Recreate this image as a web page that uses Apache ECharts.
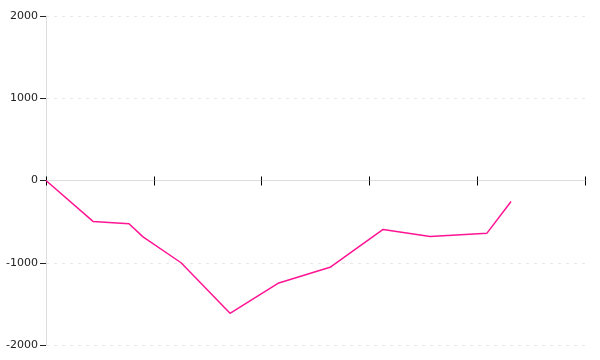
<!DOCTYPE html>
<html>
<head>
<meta charset="utf-8">
<script src="https://cdn.jsdelivr.net/npm/echarts@6/dist/echarts.min.js"></script>
<style>html,body{margin:0;padding:0;background:#fff}#c{width:600px;height:360px}</style>
</head>
<body>
<div id="c"></div>
<script>
var xValues = [0, 0.436, 0.77, 0.9, 1.253, 1.707, 2.152, 2.635, 3.127, 3.563, 4.091, 4.314];
var yValues = [0, -497, -525, -685, -1000, -1615, -1250, -1055, -595, -680, -640, -255];
var yTicks = [-2000, -1000, 0, 1000, 2000];

var chart = echarts.init(document.getElementById('c'), null, {renderer: 'canvas'});
var data = xValues.map(function (x, i) { return [x, yValues[i]]; });
var lbl = {fontFamily: 'DejaVu Sans', fontSize: 11, color: '#222'};
var gridTop = 16, gridBottom = 15, H = 360;
var zeroOffset = -(H - gridTop - gridBottom) / 2;
chart.setOption({
  animation: false,
  grid: {left: 46, right: 15, top: gridTop, bottom: gridBottom, containLabel: false},
  xAxis: [{
    type: 'value', min: 0, max: 5, interval: 1, position: 'bottom',
    axisLine: {show: true, onZero: true, lineStyle: {color: '#ddd', width: 1}},
    axisTick: {show: true, length: 5, lineStyle: {color: '#000', width: 1}},
    axisLabel: {show: false}, splitLine: {show: false}
  }, {
    type: 'value', min: 0, max: 5, interval: 1, position: 'bottom', offset: zeroOffset,
    axisLine: {show: true, onZero: false, lineStyle: {color: '#ddd', width: 1}},
    axisTick: {show: true, inside: true, length: 4, lineStyle: {color: '#000', width: 1}},
    axisLabel: {show: false}, splitLine: {show: false}
  }],
  yAxis: {
    type: 'value', min: yTicks[0], max: yTicks[yTicks.length - 1], interval: 1000,
    axisLine: {show: true, onZero: false, lineStyle: {color: '#ddd', width: 1}},
    axisTick: {show: true, length: 6, lineStyle: {color: '#222', width: 1}},
    axisLabel: Object.assign({margin: 8, formatter: function (v) { return String(v); }}, lbl),
    splitLine: {show: true, lineStyle: {color: '#e8e8e8', type: [3, 5], width: 1}}
  },
  series: [{
    type: 'line', xAxisIndex: 0, data: data, showSymbol: false, symbol: 'none',
    lineStyle: {color: '#ff1493', width: 1.5}
  }]
});
</script>
</body>
</html>
